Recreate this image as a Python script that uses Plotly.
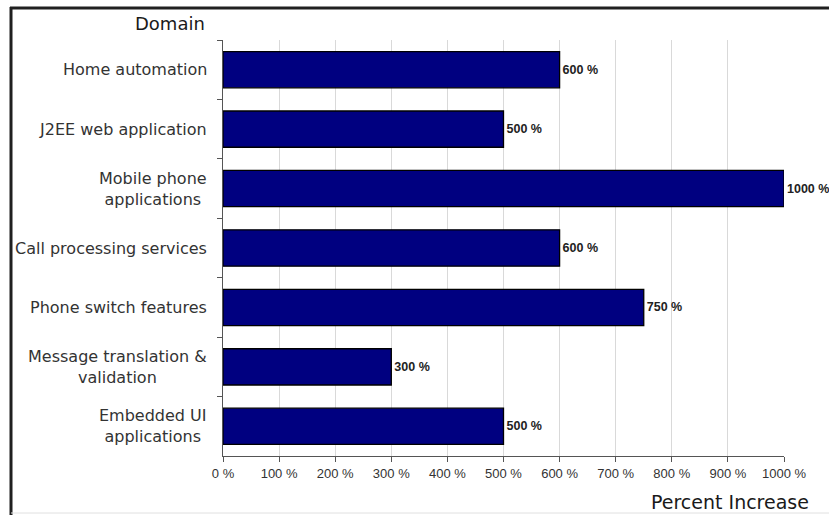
import plotly.graph_objects as go

domains = [
    "Home automation",
    "J2EE web application",
    "Mobile phone<br>applications",
    "Call processing services",
    "Phone switch features",
    "Message translation &<br>validation",
    "Embedded UI<br>applications",
]
increase = [600, 500, 1000, 600, 750, 300, 500]
tick_vals = [0, 100, 200, 300, 400, 500, 600, 700, 800, 900, 1000]
tick_text = [f"{v} %" for v in tick_vals]
labels = [f"{v} %" for v in increase]

W, H = 829, 515
L, R, T, B = 223, 45, 40, 59
pw, ph = W - L - R, H - T - B

def px_x(x):
    return (x - L) / pw

def px_y(y):
    return 1 - (y - T) / ph

fig = go.Figure()
fig.add_trace(go.Bar(
    x=increase, y=domains, orientation="h",
    marker=dict(color="#000080", line=dict(color="#000000", width=1.3)),
    width=0.61,
    text=labels, textposition="outside", cliponaxis=False,
    textfont=dict(family="Liberation Sans", size=12.5, color="#222222", weight="bold"),
    hoverinfo="skip",
))

for d in domains:
    fig.add_annotation(
        x=px_x(209), xref="paper", y=d, yref="y",
        text=d, showarrow=False, xanchor="right", yanchor="middle",
        align="center",
        font=dict(family="DejaVu Sans", size=16, color="#333333"),
    )

fig.add_annotation(x=px_x(207), y=px_y(23), xref="paper", yref="paper",
                   text="Domain", showarrow=False, xanchor="right", yanchor="middle",
                   font=dict(family="DejaVu Sans", size=18, color="#1a1a1a"))
fig.add_annotation(x=px_x(811), y=px_y(502), xref="paper", yref="paper",
                   text="Percent Increase", showarrow=False, xanchor="right", yanchor="middle",
                   font=dict(family="DejaVu Sans", size=19, color="#1a1a1a"))

# frame
fig.add_shape(type="line", xref="paper", yref="paper",
              x0=px_x(10), x1=px_x(840), y0=px_y(8), y1=px_y(8),
              line=dict(color="#202020", width=3))
fig.add_shape(type="line", xref="paper", yref="paper",
              x0=px_x(11), x1=px_x(11), y0=px_y(7), y1=px_y(520),
              line=dict(color="#202020", width=3))
fig.add_shape(type="line", xref="paper", yref="paper",
              x0=px_x(11), x1=px_x(840), y0=px_y(513), y1=px_y(513),
              line=dict(color="#e0e0e0", width=1))

fig.update_layout(
    width=W, height=H,
    margin=dict(l=L, r=R, t=T, b=B),
    paper_bgcolor="white", plot_bgcolor="white",
    showlegend=False,
    xaxis=dict(
        range=[0, 1000], tickvals=tick_vals, ticktext=tick_text,
        showgrid=True, gridcolor="#d9d9d9", gridwidth=1,
        showline=True, linecolor="#555555", linewidth=1,
        ticks="outside", ticklen=5, tickcolor="#555555",
        tickfont=dict(family="Liberation Sans", size=13, color="#333333"),
        zeroline=False, fixedrange=True,
    ),
    yaxis=dict(
        categoryorder="array", categoryarray=domains, autorange="reversed",
        showticklabels=False, showgrid=False,
        showline=True, linecolor="#555555", linewidth=1,
        ticks="outside", ticklen=5, tickcolor="#555555", tickson="boundaries",
        zeroline=False, fixedrange=True,
    ),
)

fig.write_html("out.html", config={"displayModeBar": False},
               post_script="document.body.style.margin='0px';document.body.style.overflow='hidden';")
